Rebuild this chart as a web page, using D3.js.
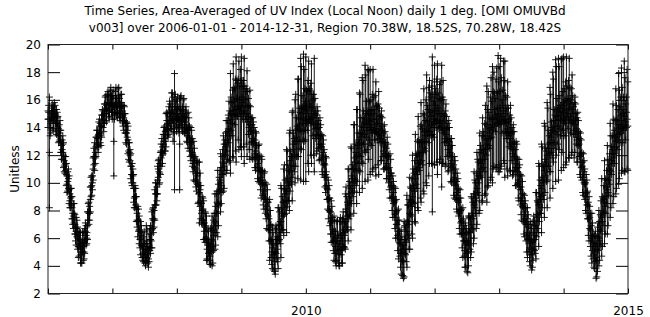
<!DOCTYPE html>
<html>
<head>
<meta charset="utf-8">
<script src="https://d3js.org/d3.v7.min.js"></script>
<style>
  body { margin: 0; background: #fff; }
  text { font-family: "DejaVu Sans", sans-serif; fill: #000; }
</style>
</head>
<body>
<div id="chart"></div>
<script>

// readings every 8 days from Jan 1 of each year (k = 0..45),
// plus the "mid" readings taken 4 days after each of them
const stepDays = 8;
const midOffset = 4;
const years = [2006, 2007, 2008, 2009, 2010, 2011, 2012, 2013, 2014];

const uv2006 = [14.6,12.2,14.3,15.2,14.7,15.0,14.4,14.1,13.6,13.0,12.4,12.0,11.3,10.6,10.1,9.5,8.9,8.2,7.6,7.0,6.5,6.0,5.6,5.3,5.0,5.4,5.8,6.2,6.9,7.8,8.8,9.8,11.0,11.9,12.6,13.2,13.5,13.6,14.1,14.6,15.0,15.4,15.8,15.6,16.0,15.7];
const sd2006 = [0.6,4.0,0.7,0.5,0.8,0.6,0.9,0.7,0.6,0.8,0.7,0.9,0.6,0.8,0.7,1.0,0.7,0.8,0.9,0.7,1.0,0.8,0.9,1.1,0.8,1.0,0.9,0.7,1.0,0.8,0.9,0.7,0.8,1.0,0.7,0.6,0.9,0.7,0.8,0.6,0.7,0.9,0.6,0.8,0.7,0.6];
const uvMid2006 = [15.1,14.0,15.0,14.5,15.3,14.3,14.7,13.4,13.8,12.2,12.8,11.2,11.4,9.9,10.3,8.7,9.0,7.4,7.8,6.3,6.7,5.4,5.9,4.8,5.7,5.0,6.5,6.0,7.9,7.8,9.7,10.0,11.9,11.8,13.3,12.8,14.1,13.4,14.9,14.3,15.7,15.0,16.2,15.2,16.3,15.1];
const sdMid2006 = [0.5,0.6,0.4,0.7,0.5,0.6,0.4,0.5,0.7,0.5,0.6,0.4,0.5,0.6,0.7,0.5,0.6,0.4,0.7,0.5,0.6,0.8,0.5,0.6,0.7,0.5,0.6,0.4,0.6,0.5,0.7,0.5,0.6,0.4,0.5,0.6,0.5,0.7,0.4,0.6,0.5,0.6,0.4,0.5,0.6,0.5];

const uv2007 = [15.6,13.0,15.8,15.5,15.9,15.4,15.6,15.0,14.7,14.3,13.6,13.1,12.2,11.2,10.6,9.6,9.0,8.1,7.2,6.6,6.0,5.5,5.2,5.0,5.6,4.8,5.3,5.9,6.6,7.3,8.4,9.2,10.2,10.8,11.4,12.2,12.8,13.2,13.8,14.2,14.5,14.8,15.2,14.6,13.7,15.0];
const sd2007 = [0.7,2.5,0.8,0.6,0.9,0.7,0.8,0.6,0.9,0.7,0.8,1.0,0.7,0.9,0.8,1.0,0.8,0.9,1.1,1.0,1.2,0.9,0.9,0.8,1.3,0.6,1.0,1.0,1.3,0.9,1.1,0.8,1.0,0.9,0.8,1.0,0.7,0.9,1.2,0.8,1.0,0.9,1.3,1.6,4.2,0.9];
const uvMid2007 = [16.1,15.1,16.2,15.1,16.3,15.0,15.8,14.5,15.0,13.6,13.8,12.3,12.0,10.6,10.5,8.9,9.0,7.3,7.3,5.9,6.2,4.9,5.6,4.6,5.6,4.5,5.9,5.8,7.4,7.4,9.2,9.2,11.0,10.7,12.3,12.0,13.5,13.0,14.5,13.8,15.1,14.5,15.5,14.3,15.5,14.5];
const sdMid2007 = [0.6,0.5,0.7,0.4,0.6,0.5,0.6,0.4,0.5,0.7,0.5,0.6,0.4,0.6,0.5,0.7,0.6,0.5,0.8,0.6,0.7,0.5,0.9,0.6,1.0,0.6,0.8,0.5,0.7,0.6,0.8,0.5,0.6,0.7,0.5,0.6,0.5,0.7,0.6,0.5,0.8,0.6,1.0,0.7,0.9,0.8];

const uv2008 = [15.0,14.7,12.8,15.2,14.6,14.9,14.4,14.0,13.8,13.2,12.8,12.2,11.6,11.0,10.5,10.0,9.3,8.6,8.0,7.3,6.8,6.0,5.5,5.0,5.4,5.8,6.2,7.2,7.8,8.5,9.4,10.0,10.6,11.4,12.0,12.6,13.1,13.7,14.3,14.6,15.2,15.5,15.3,16.0,15.6,15.4];
const sd2008 = [1.0,0.8,3.3,1.1,0.9,1.2,0.8,1.0,1.3,0.9,1.2,1.0,1.4,0.9,1.1,1.5,2.2,1.2,1.0,1.4,1.1,1.6,1.1,0.6,1.3,1.8,1.1,2.0,1.4,2.4,1.0,2.1,1.3,2.0,1.1,1.9,1.4,2.2,3.6,1.2,3.4,1.3,3.8,1.2,3.2,2.8];
const uvMid2008 = [15.4,14.2,15.3,14.5,15.3,14.2,14.7,13.4,14.0,12.5,12.9,11.4,11.8,10.2,10.7,9.2,9.5,7.8,8.1,6.5,6.9,5.2,5.7,4.7,5.9,5.4,7.1,6.9,8.6,8.4,10.2,9.8,11.5,11.2,12.8,12.3,13.9,13.4,15.0,14.3,15.9,14.9,16.1,15.3,16.0,15.0];
const sdMid2008 = [0.8,0.6,0.9,0.5,0.7,0.6,0.8,0.5,0.7,0.6,0.9,0.6,0.7,0.5,0.8,0.6,1.2,0.7,0.8,0.6,0.9,0.7,0.8,0.6,0.9,1.2,0.7,1.4,0.8,1.5,0.7,1.3,0.9,1.6,0.8,1.4,1.0,1.8,1.2,2.4,1.0,2.6,1.3,2.2,1.0,2.4];

const uv2009 = [15.5,15.8,15.2,15.6,15.0,14.8,14.2,13.8,13.2,12.9,12.3,11.9,11.4,11.0,10.4,10.0,9.4,8.9,8.3,7.6,6.6,5.8,5.3,4.6,5.0,5.6,6.0,6.9,7.2,7.8,8.6,9.2,9.4,10.0,10.8,11.2,11.9,12.4,13.0,13.3,13.9,14.2,14.6,15.0,14.7,15.3];
const sd2009 = [3.6,1.2,3.8,1.0,3.1,1.3,2.5,0.9,1.5,1.1,1.4,0.8,1.3,1.0,1.5,0.9,1.3,1.1,1.6,1.0,2.2,1.2,1.5,0.9,1.6,1.1,2.2,1.0,2.6,1.2,2.4,1.0,3.0,1.3,2.8,1.1,3.2,1.2,3.0,1.4,3.6,1.2,4.4,1.3,4.6,1.5];
const uvMid2009 = [16.2,15.0,16.0,14.8,15.5,14.0,14.6,13.0,13.6,12.1,12.7,11.1,11.8,10.2,10.8,9.2,9.8,8.1,8.6,6.6,6.9,5.0,5.6,4.3,5.9,5.2,7.0,6.4,8.1,7.6,9.5,8.7,10.3,9.8,11.6,10.9,12.8,12.0,13.8,13.0,14.7,13.8,15.4,14.3,15.6,14.5];
const sdMid2009 = [1.2,2.4,1.0,2.0,1.1,1.6,0.9,1.2,0.8,1.0,0.9,0.8,1.0,0.7,0.9,0.8,1.0,0.7,0.9,0.8,1.1,0.9,0.8,0.7,1.0,0.9,1.2,0.8,1.5,1.0,1.8,0.9,2.0,1.1,2.2,1.0,2.4,1.2,2.6,1.1,2.8,1.3,3.0,1.2,2.6,1.4];

const uv2010 = [14.6,15.2,14.8,15.5,15.0,14.7,14.9,14.2,13.9,13.5,13.2,12.6,12.0,11.4,10.6,9.6,8.8,7.9,7.2,6.6,6.0,5.4,5.8,5.2,5.6,6.0,5.8,6.4,7.2,7.9,8.4,8.9,9.6,10.3,11.0,11.5,11.9,12.5,12.9,13.3,13.6,14.0,14.3,14.6,14.2,14.5];
const sd2010 = [4.5,1.4,4.0,1.2,3.6,1.3,4.1,1.0,1.6,1.0,1.5,0.9,1.4,1.0,1.3,0.8,1.4,1.0,1.5,0.9,1.6,1.1,1.4,1.0,1.6,1.2,1.6,1.0,2.0,1.1,2.6,1.2,3.0,1.0,3.2,1.3,3.4,1.1,3.6,1.4,4.0,1.2,4.2,1.3,4.0,1.4];
const uvMid2010 = [15.5,14.4,15.7,14.6,15.4,14.2,15.0,13.5,14.3,12.8,13.4,11.8,12.2,10.5,10.8,8.8,8.9,7.1,7.3,5.8,6.1,4.9,6.2,4.8,6.3,5.2,6.6,6.2,8.1,7.6,9.2,8.7,10.5,10.0,11.8,11.0,12.7,12.0,13.6,12.8,14.4,13.5,15.0,13.8,14.9,14.0];
const sdMid2010 = [1.2,3.0,1.1,2.6,1.0,2.2,1.1,1.4,0.9,1.2,0.8,1.0,0.9,0.8,1.0,0.7,0.9,0.8,1.0,0.7,1.2,0.9,1.1,0.8,1.2,1.0,1.3,0.9,1.6,1.0,1.8,1.1,2.0,1.0,2.4,1.2,2.6,1.1,2.8,1.3,3.0,1.2,2.8,1.4,3.2,1.2];

const uv2011 = [14.4,14.0,14.6,14.2,13.9,14.3,13.6,13.9,13.4,13.0,12.6,12.0,11.8,11.0,10.5,9.8,9.0,8.6,7.8,7.0,6.3,5.6,5.0,4.4,5.2,5.8,6.5,7.2,7.8,8.6,9.0,9.6,10.3,10.8,11.4,11.9,12.2,12.6,13.0,13.4,13.8,14.1,14.4,14.8,13.5,14.6];
const sd2011 = [3.8,1.3,3.6,1.1,3.4,1.2,3.0,1.0,1.8,1.1,1.6,0.9,1.5,1.0,1.6,0.9,1.5,1.1,1.8,1.0,1.8,0.9,1.6,1.1,2.0,1.0,2.6,1.2,2.6,1.0,3.0,1.1,3.2,1.2,3.4,1.0,3.6,1.3,3.8,1.1,4.0,1.2,3.0,1.4,5.6,1.3];
const uvMid2011 = [14.9,13.6,15.0,13.7,14.6,13.5,14.3,13.2,13.8,12.3,12.9,11.4,11.9,10.3,10.7,8.9,9.3,7.7,7.9,6.2,6.5,4.9,5.2,4.3,5.9,5.7,7.3,7.0,8.7,8.3,9.8,9.4,11.0,10.6,12.1,11.5,12.9,12.2,13.7,13.0,14.5,13.7,15.1,14.2,15.2,14.3];
const sdMid2011 = [1.1,2.8,1.2,2.6,1.0,2.2,1.1,1.6,0.9,1.3,0.8,1.1,0.9,0.8,1.0,0.9,0.8,1.0,0.9,1.1,0.8,1.0,0.9,1.2,1.0,1.4,1.1,1.8,1.0,2.0,1.2,2.2,1.1,2.4,1.0,2.6,1.3,2.8,1.2,3.0,1.1,3.2,1.4,2.8,1.2,3.0];

const uv2012 = [14.9,15.2,14.6,15.0,14.5,14.1,14.4,13.9,13.5,13.1,12.7,12.2,11.6,11.0,10.4,9.9,9.3,8.6,7.9,7.2,6.4,5.8,5.5,5.0,5.8,6.4,7.0,7.6,8.4,8.9,9.6,10.3,10.8,11.4,11.7,12.1,12.4,12.8,13.2,13.6,14.0,14.2,14.6,14.9,14.7,15.0];
const sd2012 = [3.6,1.2,4.0,1.1,2.8,4.4,3.0,1.0,2.2,1.2,1.8,1.0,1.6,0.9,1.5,1.1,1.4,1.0,1.6,0.9,1.8,1.1,1.6,1.4,1.8,1.2,2.0,1.0,2.4,1.1,2.6,1.2,2.8,1.0,3.0,1.3,3.2,4.2,3.4,1.1,3.6,4.2,3.4,1.2,3.6,4.2];
const uvMid2012 = [15.6,14.5,15.4,14.3,15.0,13.8,14.8,13.2,13.9,12.4,13.0,11.4,11.9,10.2,10.7,9.1,9.5,7.8,8.0,6.3,6.6,5.1,5.8,4.6,6.5,6.0,7.8,7.4,9.2,8.7,10.5,10.0,11.6,11.0,12.4,11.7,13.1,12.5,13.9,13.2,14.6,13.8,15.3,14.3,15.4,14.3];
const sdMid2012 = [1.2,3.0,1.1,2.8,1.0,2.4,1.2,2.0,0.9,1.6,1.0,1.3,0.8,1.1,0.9,1.0,0.8,1.1,0.9,1.0,0.8,1.2,0.9,1.1,1.0,1.4,1.1,1.8,1.0,2.0,1.2,2.2,1.1,2.4,1.3,2.6,1.1,2.8,1.2,3.0,1.3,2.8,1.2,3.2,1.1,3.0];

const uv2013 = [14.6,15.0,14.8,15.2,14.6,14.3,13.9,13.6,13.2,12.8,12.4,11.9,11.4,10.8,10.2,9.5,8.9,8.2,7.6,7.0,6.4,6.0,5.6,5.2,5.8,6.2,6.9,7.7,8.4,9.0,9.6,10.2,10.9,11.5,12.0,12.5,12.9,13.3,13.8,14.1,14.5,14.8,14.6,15.1,14.9,15.2];
const sd2013 = [3.8,4.0,1.2,3.6,4.2,1.1,3.4,1.0,2.4,1.2,1.8,1.0,1.6,0.9,1.5,1.1,1.6,1.0,1.5,1.2,1.8,1.0,1.6,1.5,1.4,1.1,2.4,1.0,3.0,1.2,3.2,1.1,3.4,1.0,3.8,1.3,4.0,1.1,4.2,1.2,4.4,1.3,4.4,1.2,4.0,1.4];
const uvMid2013 = [15.4,14.4,15.6,14.4,15.0,13.6,14.4,12.9,13.6,12.1,12.8,11.1,11.8,10.0,10.5,8.7,9.2,7.4,7.9,6.2,6.8,5.3,5.9,4.8,6.4,5.9,7.7,7.5,9.2,8.8,10.4,10.0,11.7,11.2,12.8,12.1,13.6,12.9,14.5,13.7,15.2,14.1,15.4,14.5,15.6,14.6];
const sdMid2013 = [1.2,3.2,1.1,3.0,1.3,2.6,1.0,2.0,1.1,1.6,0.9,1.3,1.0,1.1,0.8,1.0,0.9,1.1,0.8,1.2,0.9,1.0,1.1,0.9,1.2,1.0,1.6,1.1,2.0,1.0,2.2,1.2,2.4,1.1,2.6,1.3,2.8,1.1,3.0,1.2,3.2,1.3,3.0,1.1,3.4,1.2];

const uv2014 = [15.1,14.7,15.3,15.0,15.4,14.8,15.0,14.5,14.2,13.9,13.3,12.8,12.0,11.2,10.6,9.9,9.2,8.4,7.4,6.6,6.0,5.4,5.0,4.6,5.2,6.0,6.6,7.5,7.9,8.6,9.0,9.5,10.2,10.9,11.6,12.1,12.6,13.0,13.5,13.9,14.2,14.5,14.1,14.8,14.4,14.6];
const sd2014 = [4.0,1.3,3.8,1.1,3.6,1.2,2.8,1.0,2.0,1.1,1.8,0.9,1.6,1.0,1.5,1.1,1.4,1.0,1.6,1.2,1.8,0.9,1.2,1.5,1.6,2.0,1.1,2.8,1.0,3.0,1.2,3.2,1.1,3.4,1.0,3.6,1.2,3.8,1.1,4.0,1.3,3.8,1.2,4.0,1.3,3.6];
const uvMid2014 = [15.6,14.3,15.9,14.6,15.7,14.4,15.3,13.8,14.6,13.1,13.6,11.9,12.1,10.4,10.8,9.0,9.3,7.4,7.5,5.8,6.1,4.8,5.4,4.4,6.1,5.8,7.6,7.2,8.8,8.3,9.7,9.3,11.0,10.8,12.4,11.8,13.3,12.6,14.2,13.5,14.9,13.9,15.0,14.2,15.1,14.1];
const sdMid2014 = [1.2,3.0,1.1,2.8,1.2,2.4,1.0,2.0,1.1,1.6,0.9,1.3,1.0,1.1,0.8,1.0,0.9,1.2,0.8,1.1,1.0,0.9,1.1,1.2,1.0,1.4,1.1,1.8,1.0,2.0,1.2,2.4,1.1,2.6,1.0,2.8,1.2,3.0,1.1,3.2,1.3,3.0,1.2,3.4,1.1,3.2];

const uvByYear = [uv2006, uv2007, uv2008, uv2009, uv2010, uv2011, uv2012, uv2013, uv2014];
const sdByYear = [sd2006, sd2007, sd2008, sd2009, sd2010, sd2011, sd2012, sd2013, sd2014];
const uvMidByYear = [uvMid2006, uvMid2007, uvMid2008, uvMid2009, uvMid2010, uvMid2011, uvMid2012, uvMid2013, uvMid2014];
const sdMidByYear = [sdMid2006, sdMid2007, sdMid2008, sdMid2009, sdMid2010, sdMid2011, sdMid2012, sdMid2013, sdMid2014];

const yTicks = [2, 4, 6, 8, 10, 12, 14, 16, 18, 20];
const xTickYears = [2006, 2007, 2008, 2009, 2010, 2011, 2012, 2013, 2014, 2015];
const xLabelYears = [2010, 2015];
const titleLines = [
  "Time Series, Area-Averaged of UV Index (Local Noon) daily 1 deg. [OMI OMUVBd",
  "v003] over 2006-01-01 - 2014-12-31, Region 70.38W, 18.52S, 70.28W, 18.42S"
];
const yLabel = "Unitless";

let width = 650, height = 317,
    margin = {top: 44.5, right: 22, bottom: 23.5, left: 48},
    plot_w = width - margin.left - margin.right,
    plot_h = height - margin.top - margin.bottom;

// build point list
let points = [];
years.forEach(function(yr, i) {
  let jan1 = new Date(yr, 0, 1);
  uvByYear[i].forEach(function(v, k) {
    points.push({ date: d3.timeDay.offset(jan1, k * stepDays), v: v, sd: sdByYear[i][k] });
  });
  uvMidByYear[i].forEach(function(v, k) {
    points.push({ date: d3.timeDay.offset(jan1, k * stepDays + midOffset), v: v, sd: sdMidByYear[i][k] });
  });
});

let svg = d3.select("#chart")
  .append("svg")
    .attr("width", width)
    .attr("height", height);

let g = svg.append("g")
    .attr("transform", "translate(" + margin.left + "," + margin.top + ")");

let x = d3.scaleTime()
    .domain([new Date(2006, 0, 1), new Date(2015, 0, 1)])
    .range([0, plot_w]);

let y = d3.scaleLinear()
    .domain([2, 20])
    .range([plot_h, 0]);

// title
svg.append("g")
  .selectAll("text")
  .data(titleLines)
  .enter()
  .append("text")
    .attr("x", 325)
    .attr("y", function(d, i) { return 15 + i * 17; })
    .attr("text-anchor", "middle")
    .attr("font-size", 12)
    .text(function(d) { return d; });

// y label
svg.append("text")
    .attr("transform", "translate(19," + (margin.top + plot_h / 2) + ") rotate(-90)")
    .attr("text-anchor", "middle")
    .attr("font-size", 12)
    .text(yLabel);

// error bars and + markers
let h = 3.5;
function cross(px, py) {
  return "M" + (px - h) + "," + py + "H" + (px + h) + "M" + px + "," + (py - h) + "V" + (py + h);
}

g.append("g")
  .selectAll("path")
  .data(points)
  .enter()
  .append("path")
    .attr("d", function(d) {
      let px = x(d.date), lo = y(d.v - d.sd), hi = y(d.v + d.sd);
      return "M" + px + "," + lo + "V" + hi + cross(px, lo) + cross(px, hi) + cross(px, y(d.v));
    })
    .attr("fill", "none")
    .attr("stroke", "#000")
    .attr("stroke-width", 0.9);

// axes with inward ticks
let yearDates = xTickYears.map(function(yr) { return new Date(yr, 0, 1); });

g.append("g")
    .call(d3.axisLeft(y).tickValues(yTicks).tickSize(-12).tickPadding(7))
    .call(function(s) { s.select(".domain").remove(); })
    .call(function(s) { s.selectAll("text").attr("font-size", 12).attr("font-family", "DejaVu Sans"); });

g.append("g")
    .attr("transform", "translate(" + plot_w + ",0)")
    .call(d3.axisRight(y).tickValues(yTicks).tickSize(-12).tickFormat(""))
    .call(function(s) { s.select(".domain").remove(); });

g.append("g")
    .attr("transform", "translate(0," + plot_h + ")")
    .call(d3.axisBottom(x).tickValues(yearDates).tickSize(-5).tickPadding(13)
      .tickFormat(function(d) { return xLabelYears.indexOf(d.getFullYear()) >= 0 ? d.getFullYear() : ""; }))
    .call(function(s) { s.select(".domain").remove(); })
    .call(function(s) { s.selectAll("text").attr("font-size", 12).attr("font-family", "DejaVu Sans"); });

g.append("g")
    .call(d3.axisTop(x).tickValues(yearDates).tickSize(-5).tickFormat(""))
    .call(function(s) { s.select(".domain").remove(); });

// frame
g.append("rect")
    .attr("width", plot_w)
    .attr("height", plot_h)
    .attr("fill", "none")
    .attr("stroke", "#222")
    .attr("stroke-width", 1);

</script>
</body>
</html>
